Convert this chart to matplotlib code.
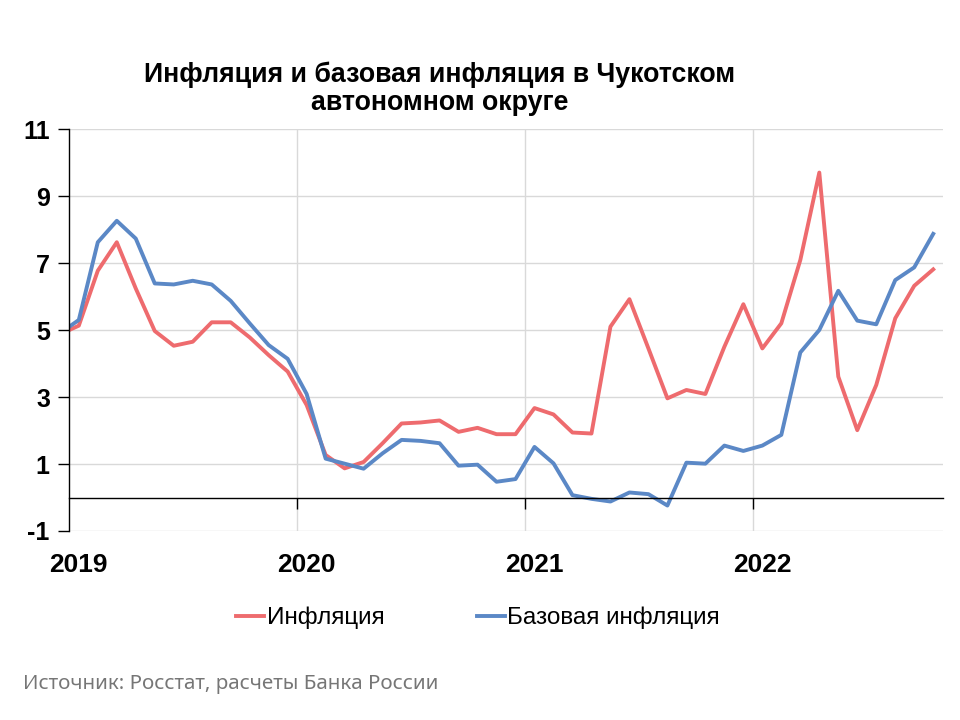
import matplotlib
matplotlib.use("Agg")
import matplotlib.pyplot as plt
import numpy as np

# ---- данные (месячные, с дек. 2018 по окт. 2022) ----
# первое значение - декабрь 2018, точка за левой границей оси
inflation = [4.87,
             5.13, 6.77, 7.62, 6.24, 4.97, 4.53, 4.65, 5.23, 5.23, 4.78, 4.25, 3.76,
             2.76, 1.27, 0.87, 1.06, 1.62, 2.21, 2.24, 2.30, 1.96, 2.08, 1.89, 1.89,
             2.67, 2.48, 1.94, 1.91, 5.10, 5.92, 4.45, 2.96, 3.21, 3.09, 4.50, 5.77,
             4.45, 5.20, 7.09, 9.70, 3.61, 2.01, 3.36, 5.35, 6.32, 6.81]
core_inflation = [4.90,
                  5.30, 7.62, 8.26, 7.73, 6.39, 6.36, 6.47, 6.36, 5.87, 5.20, 4.55, 4.14,
                  3.09, 1.16, 1.01, 0.86, 1.32, 1.72, 1.69, 1.62, 0.95, 0.98, 0.47, 0.55,
                  1.51, 1.02, 0.07, -0.04, -0.12, 0.15, 0.10, -0.24, 1.04, 1.01, 1.55, 1.39,
                  1.55, 1.87, 4.33, 5.00, 6.17, 5.28, 5.17, 6.49, 6.87, 7.87]
years = ['2019', '2020', '2021', '2022']
series_names = ['Инфляция', 'Базовая инфляция']
title = 'Инфляция и базовая инфляция в Чукотском\nавтономном округе'
source = 'Источник: Росстат, расчеты Банка России'

RED = '#EE6B6E'
BLUE = '#5B88C6'

plt.rcParams['font.family'] = ['Liberation Sans', 'DejaVu Sans']
plt.rcParams['axes.unicode_minus'] = False

# точки в центре месяца: месяц i -> i + 0.5
x = np.arange(len(inflation)) - 0.5

fig = plt.figure(figsize=(9.6, 7.2), dpi=100)
ax = fig.add_axes([0.0722, 0.2625, 0.9098, 0.5583])

ax.plot(x, inflation, color=RED, lw=2.8, label=series_names[0], solid_joinstyle='round')
ax.plot(x, core_inflation, color=BLUE, lw=2.8, label=series_names[1], solid_joinstyle='round')

ax.set_xlim(0, 46)
ax.set_ylim(-1, 11)

# сетка
ax.set_yticks(range(-1, 12, 2))
ax.grid(axis='y', color='#D9D9D9', lw=1)
ax.set_xticks([12, 24, 36])
ax.grid(axis='x', color='#D9D9D9', lw=1)
ax.set_axisbelow(True)

for s in ['top', 'right']:
    ax.spines[s].set_visible(False)
ax.spines['left'].set_color('black')
ax.spines['left'].set_linewidth(1)
# ось X проходит через ноль
ax.spines['bottom'].set_position(('data', 0))
ax.spines['bottom'].set_color('black')
ax.spines['bottom'].set_linewidth(1)
ax.tick_params(axis='x', direction='out', length=8, width=1, labelbottom=False)
ax.tick_params(axis='y', direction='out', length=8, width=1, pad=6)
for lab in ax.get_yticklabels():
    lab.set_fontsize(18)
    lab.set_fontweight('bold')

# подписи годов снизу
sec = ax.secondary_xaxis(0)
sec.set_xticks([0.5, 12.5, 24.5, 36.5])
sec.set_xticklabels(years, fontsize=19, fontweight='bold')
sec.tick_params(length=0, pad=16)
sec.spines['bottom'].set_visible(False)

fig.text(440 / 960, 1 - 89 / 720, title, ha='center', va='center',
         fontsize=19.3, fontweight='bold', linespacing=1.1)

fig.legend(loc='center', bbox_to_anchor=(478 / 960, 1 - 618 / 720), ncol=2,
           frameon=False, fontsize=17.5, handlelength=1.15, handletextpad=0.1,
           columnspacing=3.8)

fig.text(23 / 960, 1 - 684 / 720, source, ha='left', va='center',
         fontsize=14.8, color='#767676', family=['Noto Sans', 'DejaVu Sans'])

fig.savefig('out.png', dpi=100)
